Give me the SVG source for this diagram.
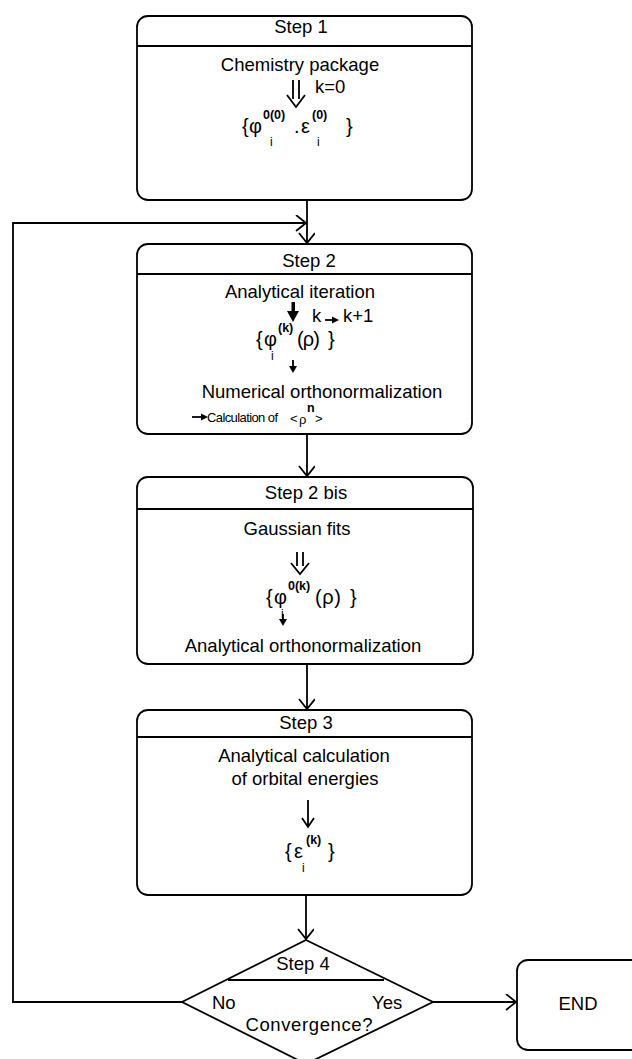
<svg xmlns="http://www.w3.org/2000/svg" width="632" height="1059" viewBox="0 0 632 1059">
<style>
.box{fill:none;stroke:#000;stroke-width:1.8}
.ln{fill:none;stroke:#000;stroke-width:1.8}
.t{font-family:"Liberation Sans","DejaVu Sans",sans-serif;font-size:18.5px;fill:#000}
.m{font-family:"Liberation Sans","DejaVu Sans",sans-serif;font-size:20px;fill:#000}
.s{font-family:"Liberation Sans","DejaVu Sans",sans-serif;font-size:12.5px;font-weight:bold;fill:#000}
.i{font-family:"Liberation Sans","DejaVu Sans",sans-serif;font-size:12px;fill:#000}
.sm{font-family:"Liberation Sans","DejaVu Sans",sans-serif;font-size:13px;fill:#000}
.c{text-anchor:middle}
.fa{fill:#000;stroke:none}
</style>
<defs>
<marker id="arr" markerUnits="userSpaceOnUse" markerWidth="20" markerHeight="20" refX="12" refY="8" orient="auto">
<path d="M2,0 L12,8 L2,16" fill="none" stroke="#000" stroke-width="1.8"/>
</marker>
</defs>

<g id="connectors">
<path class="ln" d="M307,200 V243" marker-end="url(#arr)"/>
<path class="ln" d="M182,1002 H13 V223 H306" marker-end="url(#arr)"/>
<path class="ln" d="M307,434 V476" marker-end="url(#arr)"/>
<path class="ln" d="M307,664 V709" marker-end="url(#arr)"/>
<path class="ln" d="M306,895 V939" marker-end="url(#arr)"/>
<path class="ln" d="M433,1002 H516" marker-end="url(#arr)"/>
</g>

<g id="step1">
<rect class="box" x="137" y="16" width="335" height="184" rx="11"/>
<line class="ln" x1="137" y1="46" x2="472" y2="46"/>
<text class="t c" x="301" y="33">Step 1</text>
<text class="t c" x="300" y="70.5">Chemistry package</text>
<path class="ln" stroke-width="1.6" d="M293,80 V99 M299,80 V99 M287,95 L296,107 L305,95"/>
<text class="t" x="315" y="93">k=0</text>
<text class="m" x="242" y="133">{</text>
<text class="m" x="249" y="133">φ</text>
<text class="s" x="263" y="119">0(0)</text>
<text class="i" x="270" y="146">i</text>
<text class="m" x="294" y="133">.</text>
<text class="m" x="301" y="133">ε</text>
<text class="s" x="312" y="119">(0)</text>
<text class="i" x="317" y="146">i</text>
<text class="m" x="346" y="133">}</text>
</g>

<g id="step2">
<rect class="box" x="137" y="244" width="335" height="190" rx="11"/>
<line class="ln" x1="137" y1="274" x2="472" y2="274"/>
<text class="t c" x="309" y="267">Step 2</text>
<text class="t c" x="300" y="298">Analytical iteration</text>
<rect class="fa" x="291.5" y="302" width="3.5" height="11"/>
<path class="fa" d="M287,311 L299,311 L293,322 Z"/>
<text class="t" x="312" y="322">k</text>
<line class="ln" x1="325" y1="320" x2="333" y2="320"/>
<path class="fa" d="M332,316.5 L339,320 L332,323.5 Z"/>
<text class="t" x="343" y="322">k+1</text>
<text class="m" x="256" y="346">{</text>
<text class="m" x="264" y="346">φ</text>
<text class="s" x="278" y="332">(k)</text>
<text class="i" x="271" y="360">i</text>
<text class="m" x="297" y="346" font-size="17" textLength="23">( ρ )</text>
<text class="m" x="328" y="346">}</text>
<line class="ln" x1="293" y1="360" x2="293" y2="368"/>
<path class="fa" d="M289,366 L297,366 L293,373 Z"/>
<text class="t c" x="322" y="398">Numerical orthonormalization</text>
<line class="ln" x1="192" y1="417" x2="202" y2="417"/>
<path class="fa" d="M201,413.5 L208,417 L201,420.5 Z"/>
<text class="sm" x="207" y="422" textLength="71">Calculation of</text>
<text class="sm" x="290" y="423">&lt;</text>
<text class="sm" x="299" y="424">ρ</text>
<text class="s" x="307" y="412">n</text>
<text class="sm" x="315" y="423">&gt;</text>
</g>

<g id="step2bis">
<rect class="box" x="137" y="477" width="336" height="187" rx="11"/>
<line class="ln" x1="137" y1="509" x2="473" y2="509"/>
<text class="t c" x="306" y="499">Step 2 bis</text>
<text class="t c" x="297" y="535">Gaussian fits</text>
<path class="ln" stroke-width="1.6" d="M297,552 V566 M303,552 V566 M291,563 L300,574 L309,563"/>
<text class="m" x="266" y="604">{</text>
<text class="m" x="274" y="604">φ</text>
<text class="s" x="288" y="590">0(k)</text>
<text class="i" x="281" y="618">i</text>
<text class="m" x="315" y="604" font-size="17" textLength="26">( ρ )</text>
<text class="m" x="350" y="604">}</text>
<line class="ln" x1="283" y1="614" x2="283" y2="621"/>
<path class="fa" d="M279,619 L287,619 L283,626 Z"/>
<text class="t c" x="303" y="652">Analytical orthonormalization</text>
</g>

<g id="step3">
<rect class="box" x="137" y="710" width="335" height="185" rx="11"/>
<line class="ln" x1="137" y1="737" x2="472" y2="737"/>
<text class="t c" x="306" y="729">Step 3</text>
<text class="t c" x="304" y="762">Analytical calculation</text>
<text class="t c" x="305" y="785">of orbital energies</text>
<path class="ln" stroke-width="1.6" d="M308,800 V826 M302,818 L308,827 L314,818"/>
<text class="m" x="285" y="858">{</text>
<text class="m" x="294" y="858">ε</text>
<text class="s" x="306" y="844">(k)</text>
<text class="i" x="302" y="872">i</text>
<text class="m" x="328" y="858">}</text>
</g>

<g id="step4">
<path class="box" d="M306,940 L433,1002 L306,1064 L182,1002 Z"/>
<line class="ln" x1="228" y1="980" x2="384" y2="980"/>
<text class="t c" x="303" y="970">Step 4</text>
<text class="t" x="212" y="1009">No</text>
<text class="t" x="372" y="1009">Yes</text>
<text class="t c" x="309" y="1031" textLength="127">Convergence?</text>
</g>

<g id="end">
<rect class="box" x="517" y="960" width="130" height="90" rx="11"/>
<text class="t c" x="578" y="1010">END</text>
</g>
</svg>
